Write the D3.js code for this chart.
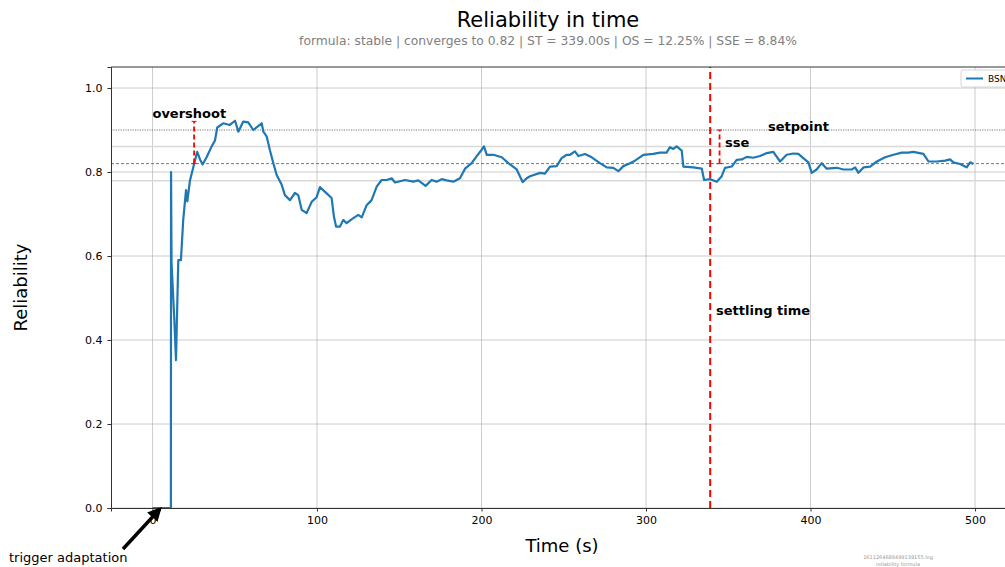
<!DOCTYPE html>
<html>
<head>
<meta charset="utf-8">
<script src="https://cdn.jsdelivr.net/npm/d3@7"></script>
<style>
  body { margin: 0; background: #fff; }
  text { font-family: "DejaVu Sans", sans-serif; }
</style>
</head>
<body>
<div id="chart"></div>
<script>
// BSN reliability samples (time in s, value)
var times = [0, 11.2, 11.3, 11.6, 13.3, 14.3, 15.7, 17.3, 18.7, 20.4, 21.2, 22.8, 25.4, 27.2, 28.9, 30.5,
  32.9, 36, 38, 39.4, 43, 47, 50.2, 52.2, 55.2, 58.2, 61.3, 66.4, 67.4, 69.4, 71.4, 73.4, 75.5, 78.5,
  80.5, 83.6, 86.6, 88.6, 90.7, 93.7, 96.8, 99.8, 101.8, 105.9, 108.9, 110.3, 111.6, 114, 116, 118,
  121, 125.1, 127.2, 130.2, 133.2, 136.3, 139.3, 142.4, 145.4, 147.4, 153.5, 158.5, 161.6, 166,
  169.7, 172.7, 175.8, 178.8, 182.9, 186.9, 190, 194, 197, 200.1, 201.5, 203.2, 207.2, 212.3, 216.3,
  221.4, 225, 227.5, 229.5, 235.6, 238.6, 241.6, 245.7, 248.7, 251.8, 253.8, 256.8, 258.9, 262.9,
  267, 272, 276.1, 280.1, 283.2, 286.2, 290.3, 293.3, 298.4, 304.4, 308.5, 312.5, 314.5, 316.6,
  318.6, 321.7, 322.7, 328.8, 333.9, 335.3, 338.9, 343, 346, 348, 352.1, 355.1, 358.2, 361.2, 365.2,
  369.3, 373.4, 377.4, 379.5, 381.5, 385.5, 389.6, 392.6, 395.6, 398.7, 400.7, 403.7, 406.8, 409.8,
  415.9, 420, 425.1, 427.1, 429.1, 432.2, 436.2, 440.3, 445.3, 450.4, 455.5, 459.5, 462.5, 468.6,
  471.7, 476.7, 481.8, 484.8, 486.8, 490.9, 493.9, 494.9, 497, 499];
var reliability = [0, 0, 0.80, 0.584, 0.447, 0.352, 0.59, 0.59, 0.686, 0.757, 0.73, 0.78, 0.82, 0.848, 0.83, 0.818,
  0.835, 0.861, 0.875, 0.906, 0.916, 0.912, 0.922, 0.896, 0.92, 0.918, 0.9, 0.916, 0.896, 0.885, 0.852,
  0.822, 0.793, 0.77, 0.745, 0.733, 0.75, 0.745, 0.71, 0.702, 0.729, 0.74, 0.764, 0.749, 0.738, 0.694,
  0.67, 0.67, 0.686, 0.678, 0.687, 0.698, 0.692, 0.721, 0.733, 0.765, 0.781, 0.781, 0.785, 0.775, 0.781,
  0.777, 0.78, 0.767, 0.781, 0.777, 0.783, 0.78, 0.777, 0.785, 0.808, 0.821, 0.837, 0.853, 0.861, 0.841,
  0.841, 0.835, 0.821, 0.806, 0.776, 0.785, 0.79, 0.798, 0.796, 0.813, 0.814, 0.833, 0.841, 0.841, 0.849,
  0.838, 0.843, 0.835, 0.821, 0.811, 0.81, 0.802, 0.814, 0.821, 0.827, 0.841, 0.843, 0.846, 0.846, 0.859,
  0.855, 0.861, 0.851, 0.813, 0.811, 0.808, 0.781, 0.783, 0.777, 0.79, 0.81, 0.813, 0.829, 0.83, 0.836,
  0.834, 0.838, 0.845, 0.848, 0.836, 0.825, 0.841, 0.844, 0.843, 0.833, 0.823, 0.798, 0.806, 0.821, 0.808,
  0.81, 0.806, 0.806, 0.811, 0.798, 0.811, 0.813, 0.825, 0.835, 0.841, 0.846, 0.846, 0.848, 0.843, 0.825,
  0.825, 0.827, 0.83, 0.823, 0.819, 0.813, 0.811, 0.823, 0.819];

var xTicks = [0, 100, 200, 300, 400, 500];
var yTicks = [0, 0.2, 0.4, 0.6, 0.8, 1.0];

var setpoint = 0.9,
    converge = 0.82,
    bandHigh = 0.861,
    bandLow = 0.779,
    settlingTime = 339,
    overshootT = 25.3,
    overshootPeak = 0.9205,
    sseT = 344.7;

var width = 1005, height = 567;
var margin = {top: 67, right: 0, bottom: 59, left: 111};

var svg = d3.select("#chart").append("svg")
    .attr("width", width)
    .attr("height", height);

var x = d3.scaleLinear().domain([-25.2, 518.2]).range([margin.left, width - margin.right]);
var y = d3.scaleLinear().domain([0, 1.05]).range([height - margin.bottom, margin.top]);

// grid
svg.append("g")
    .selectAll("line.vg").data(xTicks).enter().append("line")
    .attr("x1", function (d) { return x(d); }).attr("x2", function (d) { return x(d); })
    .attr("y1", y(0)).attr("y2", y(1.05))
    .style("stroke", "#b0b0b0").style("stroke-width", 0.8).style("opacity", 0.8);
svg.append("g")
    .selectAll("line.hg").data(yTicks).enter().append("line")
    .attr("x1", x.range()[0]).attr("x2", x.range()[1])
    .attr("y1", function (d) { return y(d); }).attr("y2", function (d) { return y(d); })
    .style("stroke", "#b0b0b0").style("stroke-width", 0.8).style("opacity", 0.8);

// reference lines
function hline(v, color, w, dash) {
    svg.append("line")
        .attr("x1", x.range()[0]).attr("x2", x.range()[1])
        .attr("y1", y(v)).attr("y2", y(v))
        .style("stroke", color).style("stroke-width", w)
        .style("stroke-dasharray", dash);
}
hline(bandHigh, "#d9d9d9", 1.5, null);
hline(bandLow, "#d9d9d9", 1.5, null);
hline(setpoint, "#555", 0.8, "1.2,1.2");
hline(converge, "#555", 0.8, "3,2");

// data line
var line = d3.line()
    .x(function (d) { return x(d[0]); })
    .y(function (d) { return y(d[1]); });
var pts = times.map(function (t, i) { return [t, reliability[i]]; });

svg.append("path")
    .datum(pts)
    .attr("d", line)
    .style("fill", "none")
    .style("stroke", "#1f77b4")
    .style("stroke-width", 2.2)
    .style("stroke-linejoin", "round");

// settling time
svg.append("line")
    .attr("x1", x(settlingTime)).attr("x2", x(settlingTime))
    .attr("y1", y(0)).attr("y2", y(1.05))
    .style("stroke", "red").style("stroke-width", 2)
    .style("stroke-dasharray", "7,4");

// overshoot & sse markers
function vmark(t, v0, v1) {
    svg.append("line")
        .attr("x1", x(t)).attr("x2", x(t))
        .attr("y1", y(v0)).attr("y2", y(v1))
        .style("stroke", "red").style("stroke-width", 1.8)
        .style("stroke-dasharray", "5,3");
    [v0, v1].forEach(function (v) {
        svg.append("line")
            .attr("x1", x(t) - 2.5).attr("x2", x(t) + 2.5)
            .attr("y1", y(v)).attr("y2", y(v))
            .style("stroke", "red").style("stroke-width", 1);
    });
}
vmark(overshootT, converge, overshootPeak);
vmark(sseT, converge, setpoint);

// top spine
svg.append("line").attr("x1", x.range()[0]).attr("x2", x.range()[1])
    .attr("y1", y(1.05)).attr("y2", y(1.05)).style("stroke", "#333").style("stroke-width", 1);

var xAxis = svg.append("g")
    .attr("transform", "translate(0," + y(0) + ")")
    .call(d3.axisBottom(x).tickValues(xTicks).tickSize(3.5).tickPadding(5).tickFormat(d3.format("d")));
var yAxis = svg.append("g")
    .attr("transform", "translate(" + x.range()[0] + ",0)")
    .call(d3.axisLeft(y).tickValues(yTicks).tickSize(3.5).tickPadding(5).tickFormat(d3.format(".1f")));
[xAxis, yAxis].forEach(function (a) {
    a.select(".domain").style("stroke", "#333");
    a.selectAll(".tick line").style("stroke", "#333");
    a.selectAll(".tick text").style("font-size", "11px").style("fill", "#000")
        .style("font-family", "DejaVu Sans, sans-serif");
});

// annotations
function label(px, py, txt, size, weight, color, anchor) {
    return svg.append("text")
        .attr("x", px).attr("y", py)
        .style("font-size", size + "px")
        .style("font-weight", weight || "normal")
        .style("fill", color || "#000")
        .style("text-anchor", anchor || "start")
        .text(txt);
}
label(x(0), 118, "overshoot", 13, "bold");
label(725, 147, "sse", 13, "bold");
label(768, 130.5, "setpoint", 13, "bold");
label(716, 315, "settling time", 13, "bold");

// titles
label(548, 27, "Reliability in time", 21, "normal", "#000", "middle");
label(548, 45, "formula: stable | converges to 0.82 | ST = 339.00s | OS = 12.25% | SSE = 8.84%", 12.3, "normal", "#808080", "middle");
label(562, 552, "Time (s)", 18, "normal", "#000", "middle");
svg.append("text")
    .attr("transform", "translate(27," + (y(0.525)) + ") rotate(-90)")
    .style("font-size", "18px").style("text-anchor", "middle")
    .text("Reliability");

// trigger arrow
svg.append("defs").append("marker")
    .attr("id", "ah").attr("viewBox", "0 0 10 10")
    .attr("refX", 8).attr("refY", 5)
    .attr("markerWidth", 4).attr("markerHeight", 4)
    .attr("orient", "auto")
    .append("path").attr("d", "M0,0 L10,5 L0,10 z").style("fill", "#000");
svg.append("line")
    .attr("x1", 123).attr("y1", 549)
    .attr("x2", x(4.5)).attr("y2", y(0) + 1)
    .style("stroke", "#000").style("stroke-width", 3.5)
    .attr("marker-end", "url(#ah)");
label(9, 562, "trigger adaptation", 13);

// legend (clipped at right edge)
var lg = svg.append("g").attr("transform", "translate(961,70)");
lg.append("rect").attr("width", 60).attr("height", 17).attr("rx", 2)
    .style("fill", "#fff").style("stroke", "#ccc").style("stroke-width", 0.8);
lg.append("line").attr("x1", 5).attr("x2", 22).attr("y1", 8.5).attr("y2", 8.5)
    .style("stroke", "#1f77b4").style("stroke-width", 2);
lg.append("text").attr("x", 27).attr("y", 12).style("font-size", "9px").text("BSN");

// file note
label(898, 559, "1611264688499139155.log", 5, "normal", "#999", "middle");
label(898, 566, "reliability formula", 5, "normal", "#999", "middle");
</script>
</body>
</html>
